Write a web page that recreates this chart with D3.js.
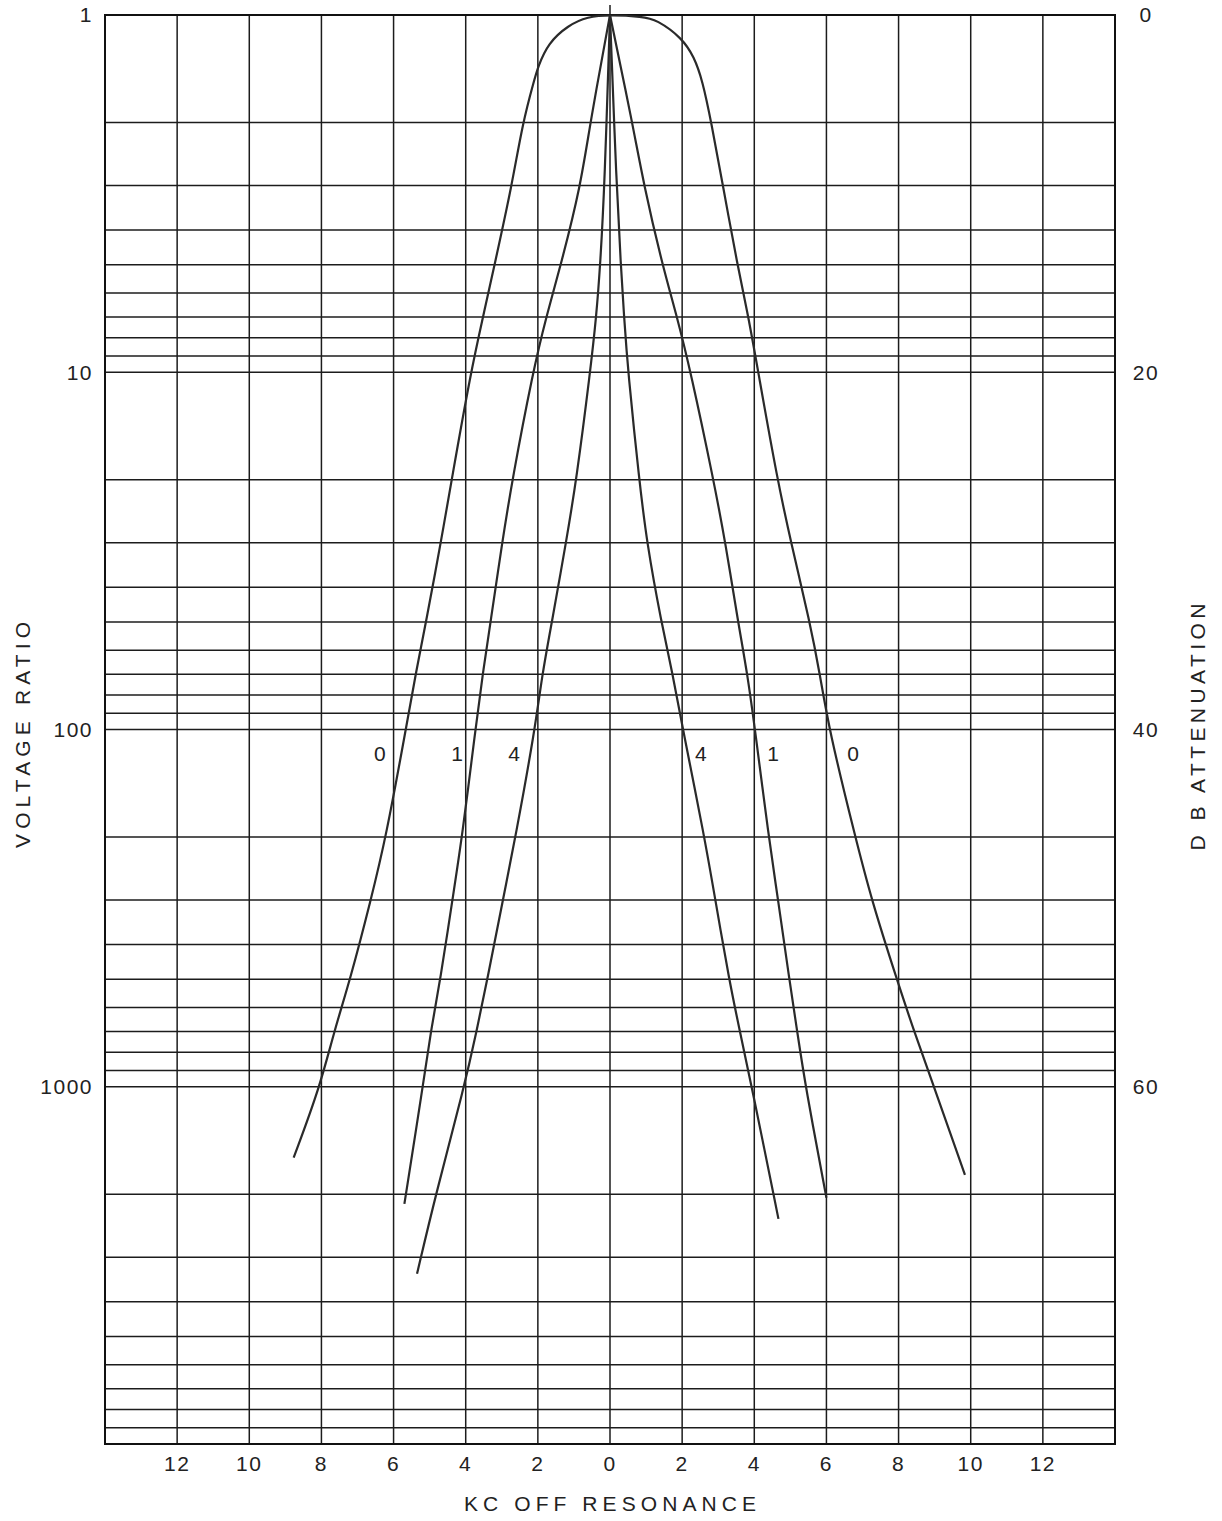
<!DOCTYPE html>
<html>
<head>
<meta charset="utf-8">
<script src="https://cdn.jsdelivr.net/npm/d3@7"></script>
<style>
  body { margin: 0; background: #fff; }
  text { font-family: "Liberation Sans", "DejaVu Sans", sans-serif; fill: #222; }
</style>
</head>
<body>
<svg id="chart" width="1222" height="1521"></svg>
<script>
// kc off resonance ticks (labels show the absolute value)
var kcTicks = [-12, -10, -8, -6, -4, -2, 0, 2, 4, 6, 8, 10, 12];
// left axis: voltage ratio, right axis: db attenuation
var ratioTicks = [1, 10, 100, 1000];
var ratioLabels = ["1", "10", "100", "1000"];
var dbLabels = ["0", "20", "40", "60"];

// curve "0" (flat top), drawn left to right
var c0Kc = [-8.77, -8.04, -7.65, -7.2, -6.63, -6.21, -5.66, -5.39, -5.1, -4.69, -4.39, -3.86, -3.52, -3.2, -2.72, -2.42, -2.1, -2.0, -1.72, -1.17, -0.62, 0,
            0.9, 1.29, 2.0, 2.33, 2.56, 2.81, 3.13, 3.53, 3.84, 4.11, 4.64, 5.02, 5.54, 5.82, 6.07, 6.8, 7.25, 7.95, 8.43, 8.98, 9.84];
var c0Ratio = [1580, 1000, 700, 500, 300, 200, 100, 70, 50, 30, 20, 10, 7, 5, 3, 2, 1.52, 1.4, 1.2, 1.07, 1.01, 1,
               1.01, 1.03, 1.16, 1.31, 1.52, 2, 3, 5, 7, 10, 20, 30, 50, 70, 100, 200, 300, 500, 700, 1000, 1764];

// curve "1", each side from the peak outwards
var c1LeftRatio = [1, 2, 3, 5, 7, 10, 20, 30, 50, 70, 100, 200, 300, 500, 700, 1000, 2128];
var c1LeftKc = [0, -0.55, -0.81, -1.36, -1.77, -2.14, -2.71, -2.99, -3.31, -3.53, -3.73, -4.1, -4.37, -4.7, -4.97, -5.19, -5.7];
var c1RightRatio = [1, 2, 3, 5, 7, 10, 20, 30, 50, 70, 100, 200, 300, 500, 700, 1000, 2046];
var c1RightKc = [0, 0.62, 0.94, 1.45, 1.86, 2.24, 2.87, 3.2, 3.55, 3.81, 4.02, 4.4, 4.66, 4.97, 5.19, 5.42, 6.0];

// curve "4", each side from the peak outwards
var c4LeftRatio = [1, 3, 5, 7, 10, 20, 30, 50, 70, 100, 200, 300, 500, 700, 1000, 2000, 3340];
var c4LeftKc = [0, -0.15, -0.27, -0.38, -0.55, -0.93, -1.22, -1.61, -1.88, -2.08, -2.62, -2.97, -3.4, -3.7, -4.04, -4.83, -5.35];
var c4RightRatio = [1, 3, 5, 7, 10, 20, 30, 50, 70, 100, 200, 300, 500, 700, 1000, 2343];
var c4RightKc = [0, 0.18, 0.3, 0.39, 0.5, 0.81, 1.02, 1.42, 1.74, 2.02, 2.62, 2.92, 3.3, 3.6, 3.93, 4.67];

// curve labels along the 100 row
var curveLabels = ["0", "1", "4", "4", "1", "0"];
var curveLabelKc = [-6.38, -4.24, -2.66, 2.52, 4.52, 6.74];
var curveLabelRatio = 117;

var svg = d3.select("#chart");

// scales
var x = d3.scaleLinear().domain([-14, 14]).range([105, 1115]);
var y = d3.scaleLog().domain([1, 10000]).range([15, 1444]);

// grid lines: vertical every 2 kc, horizontal on the log subdivisions
var vLines = d3.range(-14, 15, 2);
var hLines = [];
ratioTicks.forEach(function(d) {
  for (var m = 1; m <= 9; m++) hLines.push(m * d);
});
hLines.push(10000);

var grid = svg.append("g")
    .attr("stroke", "#1c1c1c")
    .attr("stroke-width", 1.5);

grid.selectAll(".v")
    .data(vLines)
    .enter()
    .append("line")
    .attr("x1", function(d) { return x(d); })
    .attr("x2", function(d) { return x(d); })
    .attr("y1", function(d) { return d === 0 ? y(1) - 10 : y(1); })
    .attr("y2", y(10000));

grid.selectAll(".h")
    .data(hLines)
    .enter()
    .append("line")
    .attr("x1", x(-14))
    .attr("x2", x(14))
    .attr("y1", function(d) { return y(d); })
    .attr("y2", function(d) { return y(d); });

// outer frame
svg.append("rect")
    .attr("x", x(-14))
    .attr("y", y(1))
    .attr("width", x(14) - x(-14))
    .attr("height", y(10000) - y(1))
    .attr("fill", "none")
    .attr("stroke", "#111")
    .attr("stroke-width", 2);

// curves
function pairs(kc, ratio) {
  return kc.map(function(k, i) { return [k, ratio[i]]; });
}

// b-spline smooths out the reading noise of the hand drawn curves
var line = d3.line()
    .x(function(d) { return x(d[0]); })
    .y(function(d) { return y(d[1]); })
    .curve(d3.curveBasis);

var curves = [
  pairs(c0Kc, c0Ratio),
  pairs(c1LeftKc, c1LeftRatio),
  pairs(c1RightKc, c1RightRatio),
  pairs(c4LeftKc, c4LeftRatio),
  pairs(c4RightKc, c4RightRatio)
];

svg.append("g")
    .selectAll("path")
    .data(curves)
    .enter()
    .append("path")
    .attr("d", line)
    .attr("fill", "none")
    .attr("stroke", "#2a2a2a")
    .attr("stroke-width", 2.2);

// curve labels
svg.append("g")
    .selectAll("text")
    .data(curveLabels)
    .enter()
    .append("text")
    .attr("x", function(d, i) { return x(curveLabelKc[i]); })
    .attr("y", y(curveLabelRatio))
    .attr("dy", "0.35em")
    .attr("text-anchor", "middle")
    .style("font-size", "21px")
    .text(function(d) { return d; });

// left tick labels (voltage ratio)
svg.append("g")
    .selectAll("text")
    .data(ratioTicks)
    .enter()
    .append("text")
    .attr("x", 93)
    .attr("y", function(d) { return y(d); })
    .attr("dy", "0.35em")
    .attr("text-anchor", "end")
    .style("font-size", "21px")
    .style("letter-spacing", "1.5px")
    .text(function(d, i) { return ratioLabels[i]; });

// right tick labels (db attenuation)
svg.append("g")
    .selectAll("text")
    .data(ratioTicks)
    .enter()
    .append("text")
    .attr("x", 1146)
    .attr("y", function(d) { return y(d); })
    .attr("dy", "0.35em")
    .attr("text-anchor", "middle")
    .style("font-size", "21px")
    .style("letter-spacing", "1.5px")
    .text(function(d, i) { return dbLabels[i]; });

// bottom tick labels
svg.append("g")
    .selectAll("text")
    .data(kcTicks)
    .enter()
    .append("text")
    .attr("x", function(d) { return x(d); })
    .attr("y", 1464)
    .attr("dy", "0.35em")
    .attr("text-anchor", "middle")
    .style("font-size", "21px")
    .style("letter-spacing", "1.5px")
    .text(function(d) { return Math.abs(d); });

// axis titles
svg.append("text")
    .attr("x", x(0))
    .attr("y", 1511)
    .attr("text-anchor", "middle")
    .attr("textLength", 292)
    .attr("lengthAdjust", "spacing")
    .style("font-size", "21px")
    .text("KC OFF RESONANCE");

svg.append("text")
    .attr("transform", "translate(30,735) rotate(-90)")
    .attr("text-anchor", "middle")
    .attr("textLength", 226)
    .attr("lengthAdjust", "spacing")
    .style("font-size", "21px")
    .text("VOLTAGE RATIO");

svg.append("text")
    .attr("transform", "translate(1205,727) rotate(-90)")
    .attr("text-anchor", "middle")
    .attr("textLength", 247)
    .attr("lengthAdjust", "spacing")
    .style("font-size", "21px")
    .text("D B ATTENUATION");
</script>
</body>
</html>
